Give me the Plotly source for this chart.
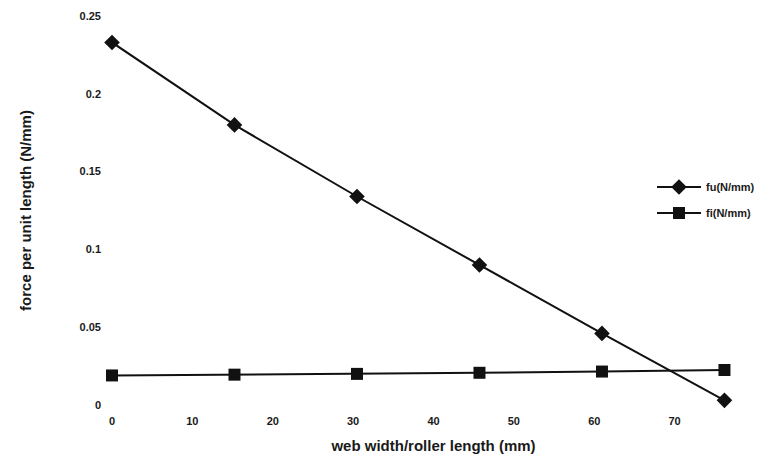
import plotly.graph_objects as go

# data
web_width = [0, 15.24, 30.48, 45.72, 60.96, 76.2]
fu = [0.233, 0.180, 0.134, 0.090, 0.046, 0.003]
fi = [0.019, 0.0195, 0.020, 0.0207, 0.0215, 0.0225]
x_ticks = [0, 10, 20, 30, 40, 50, 60, 70, 80]
y_ticks = [0, 0.05, 0.1, 0.15, 0.2, 0.25]
y_tick_text = ["0", "0.05", "0.1", "0.15", "0.2", "0.25"]

font_family = "Liberation Sans, Arial, sans-serif"

fig = go.Figure()
fig.add_trace(go.Scatter(
    x=web_width, y=fu, name="fu(N/mm)", mode="lines+markers",
    line=dict(color="#111111", width=2),
    marker=dict(symbol="diamond", size=12, color="#111111"),
    cliponaxis=False, legendgroup="a",
))
fig.add_trace(go.Scatter(
    x=web_width, y=fi, name="fi(N/mm)", mode="lines+markers",
    line=dict(color="#111111", width=2),
    marker=dict(symbol="square", size=12, color="#111111"),
    cliponaxis=False, legendgroup="b",
))

fig.update_layout(
    width=758, height=463,
    margin=dict(l=112, r=3, t=16, b=58, autoexpand=False),
    paper_bgcolor="white", plot_bgcolor="white",
    font=dict(family=font_family, size=12, color="#1a1a1a"),
    showlegend=True,
    legend=dict(
        x=(652 - 112) / (755 - 112), y=(405 - 200) / (405 - 16),
        xanchor="left", yanchor="middle",
        bgcolor="rgba(0,0,0,0)", borderwidth=0,
        font=dict(size=11, color="#1a1a1a", weight="bold"),
        tracegroupgap=7, itemwidth=44,
    ),
    xaxis=dict(
        range=[0, 80], tickmode="array", tickvals=x_ticks,
        showgrid=False, zeroline=False, showline=False, ticks="",
        automargin=False,
        tickfont=dict(size=11, weight="bold"), ticklabelstandoff=8,
        title=dict(text="web width/roller length (mm)",
                   font=dict(size=15, weight="bold"), standoff=14),
    ),
    yaxis=dict(
        range=[0, 0.25], tickmode="array", tickvals=y_ticks, ticktext=y_tick_text,
        showgrid=False, zeroline=False, showline=False, ticks="",
        automargin=False,
        tickfont=dict(size=11, weight="bold"), ticklabelstandoff=10,
        title=dict(text="force per unit length (N/mm)",
                   font=dict(size=15, weight="bold"), standoff=44),
    ),
)

fig.write_html("out.html")
